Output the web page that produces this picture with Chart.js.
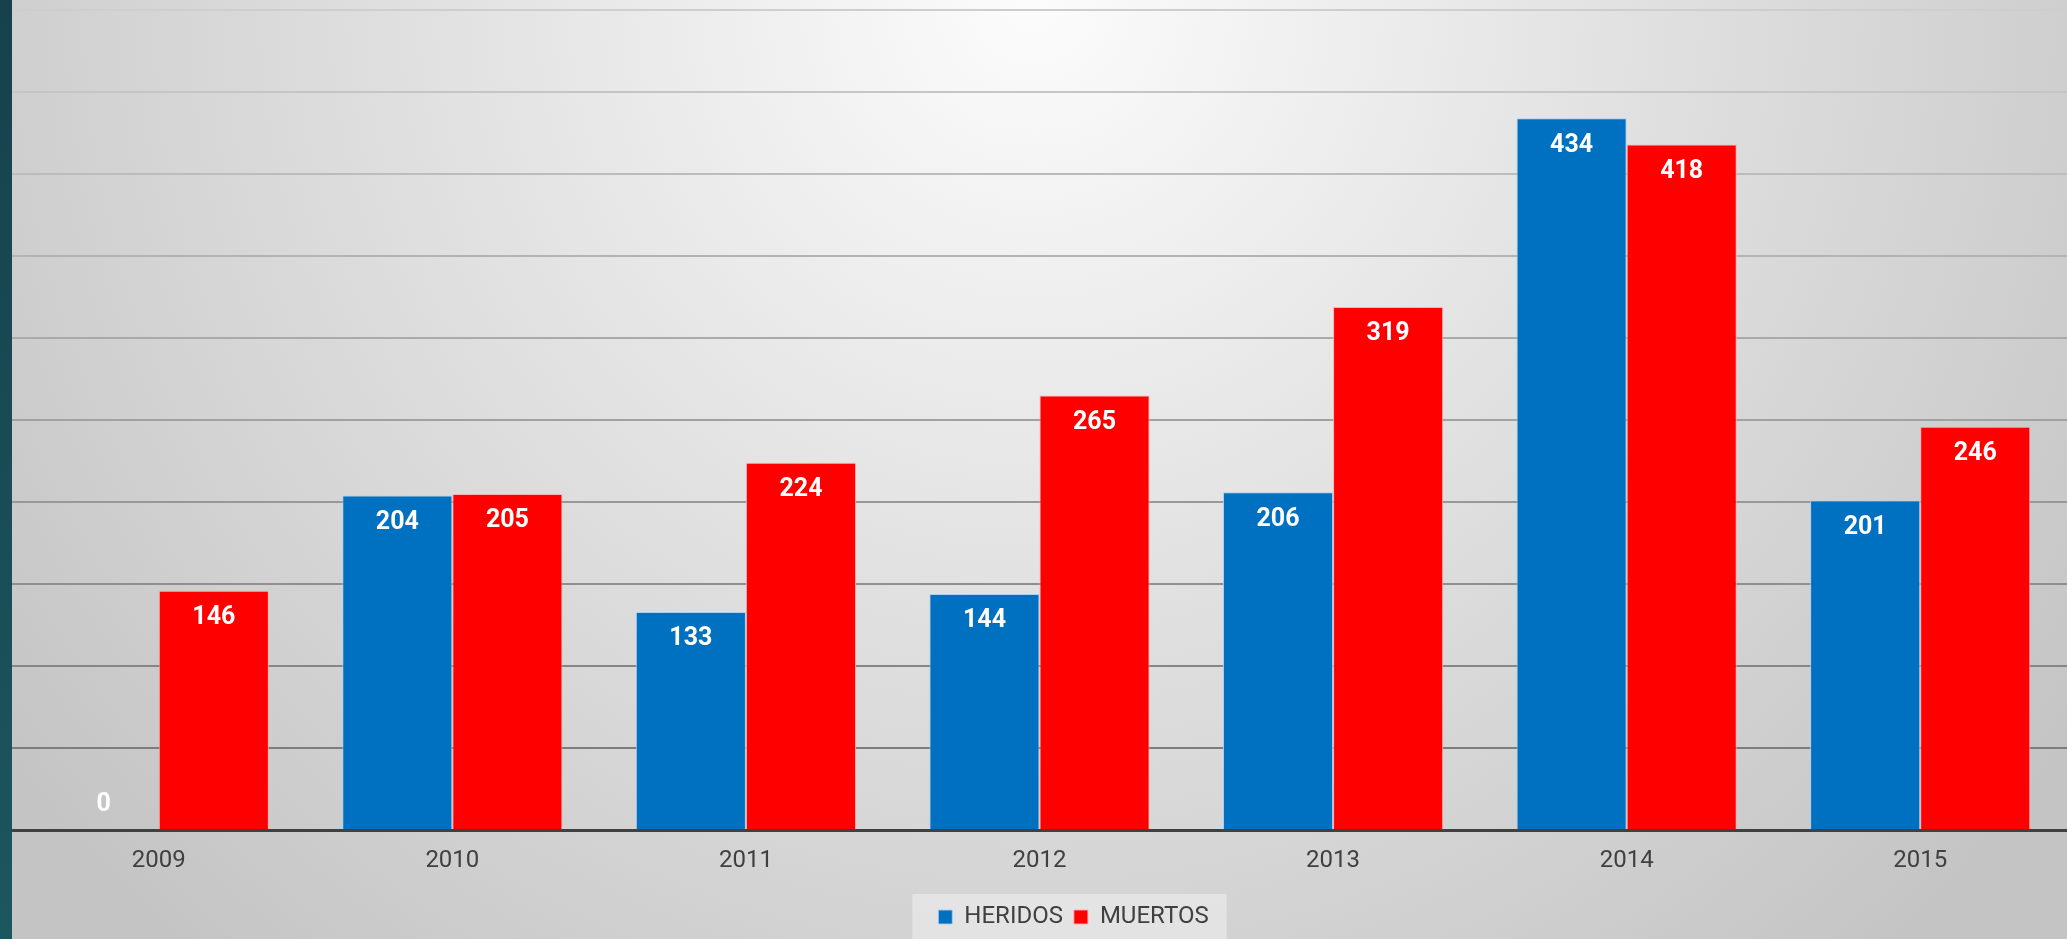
<!DOCTYPE html>
<html>
<head>
<meta charset="utf-8">
<script src="https://cdn.jsdelivr.net/npm/chart.js@4/dist/chart.umd.min.js"></script>
<style>
  html, body { margin: 0; padding: 0; background: #d0d0d0; }
  #wrap { position: relative; width: 2067px; height: 939px; }
</style>
</head>
<body>
<div id="wrap"><canvas id="chart"></canvas></div>
<script>
// Datos del gráfico
const years = ['2009', '2010', '2011', '2012', '2013', '2014', '2015'];
const heridos = [0, 204, 133, 144, 206, 434, 201];
const muertos = [146, 205, 224, 265, 319, 418, 246];
const yMax = 500;
const yStep = 50;

// Fondo degradado + franja lateral + caja de leyenda
const backgroundPlugin = {
    id: 'fondo',
    afterLayout(chart) {
        // la leyenda del original está algo desplazada a la derecha
        const lg = chart.legend;
        if (lg) {
            lg.left += 34;
            lg.right += 34;
            if (lg.adjustHitBoxes) lg.adjustHitBoxes();
        }
    },
    beforeDraw(chart) {
        const { ctx, width, height } = chart;
        ctx.save();
        const g = ctx.createRadialGradient(width * 0.5, 0, 0, width * 0.5, 0, width * 0.62);
        g.addColorStop(0, '#fcfcfc');
        g.addColorStop(0.45, '#e2e2e2');
        g.addColorStop(1, '#c4c4c4');
        ctx.fillStyle = g;
        ctx.fillRect(0, 0, width, height);

        const t = ctx.createLinearGradient(0, 0, 0, height);
        t.addColorStop(0, '#16414d');
        t.addColorStop(1, '#1c565e');
        ctx.fillStyle = t;
        ctx.fillRect(0, 0, 12, height);

        const lg = chart.legend;
        if (lg && lg.legendHitBoxes && lg.legendHitBoxes.length) {
            const boxes = lg.legendHitBoxes;
            const left = Math.min(...boxes.map(b => b.left)) - 26;
            const right = Math.max(...boxes.map(b => b.left + b.width)) + 18;
            ctx.fillStyle = 'rgba(240,240,240,0.55)';
            ctx.fillRect(left, lg.top, right - left, height - lg.top);
        }
        ctx.restore();
    }
};

// Etiquetas de valores dentro de las barras
const valueLabels = {
    id: 'etiquetas',
    afterDatasetsDraw(chart) {
        const { ctx } = chart;
        ctx.save();
        ctx.fillStyle = '#ffffff';
        ctx.font = 'bold 25px Roboto';
        ctx.textAlign = 'center';
        ctx.textBaseline = 'middle';
        chart.data.datasets.forEach((ds, i) => {
            const meta = chart.getDatasetMeta(i);
            meta.data.forEach((bar, j) => {
                const v = ds.data[j];
                const y = v === 0 ? bar.base - 25 : bar.y + 27;
                ctx.fillText(String(v), bar.x, y);
            });
        });
        ctx.restore();
    }
};

function gridColor(value) {
    // líneas más oscuras abajo, más claras arriba
    const t = Math.min(1, Math.max(0, (value - yStep) / (yMax - yStep)));
    const c = Math.round(125 + t * (206 - 125));
    return `rgb(${c},${c},${c})`;
}

const ctx = document.getElementById('chart').getContext('2d');
new Chart(ctx, {
    type: 'bar',
    data: {
        labels: years,
        datasets: [{
            label: 'HERIDOS',
            data: heridos,
            backgroundColor: '#0070c0',
            borderColor: 'rgba(170,205,240,0.9)',
            borderWidth: 1
        }, {
            label: 'MUERTOS',
            data: muertos,
            backgroundColor: '#ff0000',
            borderColor: 'rgba(255,170,170,0.9)',
            borderWidth: 1
        }]
    },
    options: {
        responsive: true,
        maintainAspectRatio: false,
        animation: false,
        layout: { padding: { left: 12, top: 10, right: 0, bottom: 0 } },
        datasets: { bar: { categoryPercentage: 0.75, barPercentage: 1 } },
        plugins: {
            legend: {
                position: 'bottom',
                labels: {
                    boxWidth: 14,
                    boxHeight: 14,
                    padding: 11,
                    color: '#404040',
                    font: { family: 'Roboto', size: 24 }
                }
            },
            tooltip: { enabled: false }
        },
        scales: {
            x: {
                grid: { display: false },
                border: { display: true, color: '#404040', width: 3 },
                ticks: {
                    color: '#404040',
                    padding: 8,
                    font: { family: 'Roboto', size: 24 }
                },
                afterFit(scale) { scale.height += 11; }
            },
            y: {
                min: 0,
                max: yMax,
                ticks: { display: false, stepSize: yStep },
                border: { display: false },
                grid: {
                    drawTicks: false,
                    lineWidth: 2,
                    color: c => (c.tick && c.tick.value === 0) ? 'rgba(0,0,0,0)' : gridColor(c.tick ? c.tick.value : 0)
                }
            }
        }
    },
    plugins: [backgroundPlugin, valueLabels]
});
</script>
</body>
</html>
